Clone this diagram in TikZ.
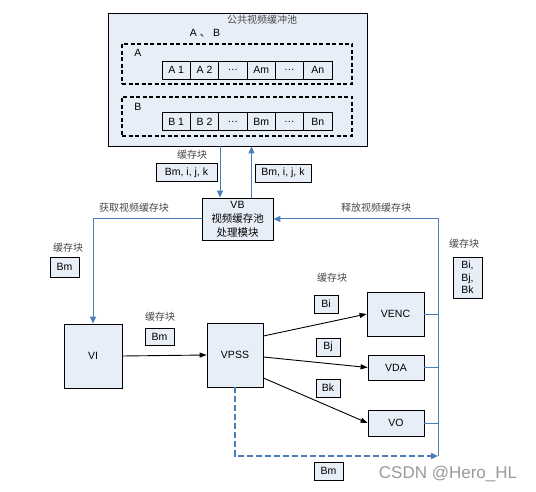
\documentclass[tikz,border=0pt]{standalone}
\usepackage{fontspec}
\setmainfont{Liberation Sans}
\newfontfamily\cjk{Noto Sans CJK SC}
\usetikzlibrary{arrows.meta,calc,positioning}
\definecolor{boxfill}{HTML}{E8EEF7}
\definecolor{linkblue}{HTML}{4A7EBB}

\begin{document}
\begin{tikzpicture}[x=1pt,y=-1pt, font=\fontsize{10.5}{12}\selectfont]
    \tikzset{unit/.style={draw,fill=boxfill,line width=0.8pt,inner sep=0pt,align=center},
      cell/.style={draw,line width=0.8pt,minimum width=28.3pt,minimum height=18pt,inner sep=0pt},
      tag/.style={draw,fill=boxfill,line width=0.8pt,inner sep=0pt,minimum height=18pt,align=center},
      note/.style={font=\cjk\fontsize{10}{12}\selectfont,text=black!72},
      group/.style={draw,line width=1.3pt,dash pattern=on 4pt off 2.5pt,minimum width=230pt},
      blueline/.style={draw=linkblue,line width=1pt},
      bluelink/.style={blueline,-{Triangle[length=7pt,width=6pt]}},
      blacklink/.style={line width=0.9pt,-{Triangle[length=7pt,width=5pt]}}}
    \useasboundingbox (0,0) rectangle (536,492);

    % shared pool
    \node[unit,minimum width=259pt,minimum height=133pt] (pool) at (237.5,79.5) {};
    \node[note] (pooltitle) at (262,20) {公共视频缓冲池};
    \node (pooltypes) at (205,33) {A {\cjk 、} B};
    \node[group,minimum height=40pt] (groupA) at (237,64) {};
    \node[group,minimum height=39pt] (groupB) at (237,116.5) {};
    \node (labelA) at (138,53) {A};
    \node (labelB) at (138,107) {B};
    \foreach \t [count=\i] in {A 1,A 2,{\ldots},Am,{\ldots},An}
      \node[cell] (cellA\i) at (162+28.33*\i-14.17,70) {\t};
    \foreach \t [count=\i] in {B 1,B 2,{\ldots},Bm,{\ldots},Bn}
      \node[cell] (cellB\i) at (162+28.33*\i-14.17,121.5) {\t};

    % modules
    \node[unit,minimum width=71pt,minimum height=42pt,font=\fontsize{10.5}{14}\selectfont] (vb) at (237.5,219)
      {VB\\{\cjk 视频缓存池}\\{\cjk 处理模块}};
    \node[unit,minimum width=58pt,minimum height=64pt] (vi) at (93,356) {VI};
    \node[unit,minimum width=56pt,minimum height=64pt] (vpss) at (235,355) {VPSS};
    \node[unit,minimum width=57pt,minimum height=44pt] (venc) at (395.5,314) {VENC};
    \node[unit,minimum width=56pt,minimum height=25pt] (vda) at (396,367.5) {VDA};
    \node[unit,minimum width=56pt,minimum height=26pt] (vo) at (396,423) {VO};

    % buffer tags
    \node[note] (getnote) at (192,155) {缓存块};
    \node[tag,minimum width=61pt] (gettag) at (186.5,172.5) {Bm, i, j, k};
    \node[tag,minimum width=56pt] (puttag) at (283,173) {Bm, i, j, k};
    \node[note] (getlabel) at (134,208) {获取视频缓存块};
    \node[note] (vinote) at (68,248) {缓存块};
    \node[tag,minimum width=29pt,minimum height=20pt] (vitag) at (64.5,267) {Bm};
    \node[note] (putlabel) at (376,208) {释放视频缓存块};
    \node[note] (busnote) at (464,244) {缓存块};
    \node[tag,minimum width=29pt,minimum height=41pt,font=\fontsize{10.5}{12.5}\selectfont] (bustag) at (467.5,277.5) {Bi,\\Bj,\\Bk};
    \node[note] (vpssnote) at (160,317) {缓存块};
    \node[tag,minimum width=29pt,minimum height=17pt] (vpsstag) at (159.5,336.5) {Bm};
    \node[note] (outnote) at (332,278) {缓存块};
    \node[tag,minimum width=24pt] (tagi) at (326,304) {Bi};
    \node[tag,minimum width=24pt] (tagj) at (328,347) {Bj};
    \node[tag,minimum width=24pt] (tagk) at (328,388) {Bk};
    \node[tag,minimum width=29pt] (backtag) at (328.5,471) {Bm};
    \node[text=black!40,font=\fontsize{17}{20}\selectfont] (mark) at (448,474) {CSDN @Hero\_HL};

    % connectors
    \coordinate (getin) at ([xshift=-17.5pt]vb.north);
    \coordinate (putout) at ([xshift=14pt]vb.north);
    \coordinate (busbot) at (438,456);
    \draw[bluelink] (getin |- pool.south) -- (getin);
    \draw[bluelink] (putout) -- (putout |- pool.south);
    \draw[bluelink] (vb.west) -| (vi.north);
    \draw[bluelink] (busbot) |- (vb.east);
    \draw[blueline] (venc.east) -- (venc.east -| busbot);
    \draw[blueline] (vda.east) -- (vda.east -| busbot);
    \draw[blueline] (vo.east) -- (vo.east -| busbot);
    \draw[bluelink,line width=1.5pt,dash pattern=on 6pt off 3pt] (vpss.south) |- (busbot);
    \draw[blacklink] (vi.east) -- (vpss.west);
    \draw[blacklink] ([yshift=19pt]vpss.east) -- (venc.west);
    \draw[blacklink] ([yshift=-2pt]vpss.east) -- (vda.west);
    \draw[blacklink] ([yshift=-23pt]vpss.east) -- (vo.west);
\end{tikzpicture}
\end{document}
